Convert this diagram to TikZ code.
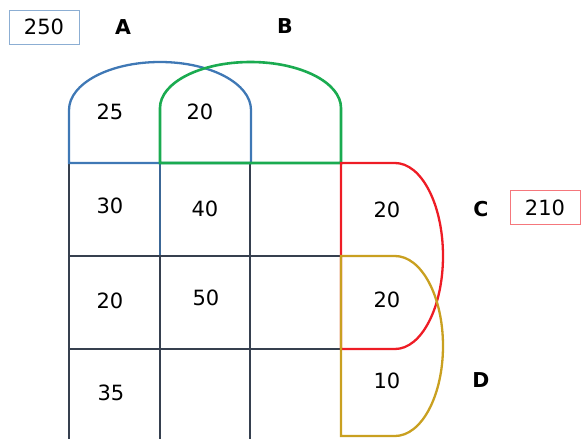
\documentclass[tikz,border=0pt]{standalone}
\usepackage{fontspec}
\setmainfont{DejaVu Sans}
\usepackage{tikz}
\usetikzlibrary{positioning,calc}

\definecolor{setA}{HTML}{3F78B5}
\definecolor{setB}{HTML}{1AAB50}
\definecolor{setC}{HTML}{EE1C25}
\definecolor{setD}{HTML}{C9A020}
\definecolor{gridline}{HTML}{36404F}

\begin{document}
\begin{tikzpicture}[
            x=1pt, y=-1pt,
            cell/.style={draw=gridline, line width=2.3pt},
            num/.style={font=\fontsize{21}{21}\selectfont, inner sep=0pt},
            setname/.style={font=\fontsize{20.5}{20.5}\selectfont\bfseries, inner sep=0pt},
            total/.style={draw, line width=0.8pt, minimum width=70pt, minimum height=34pt, font=\fontsize{21}{21}\selectfont}
        ]
            \useasboundingbox (0,0) rectangle (582,439);

% grid
            \draw[cell] (69,163) -- (69,442);
            \draw[cell, draw=setA!70!gridline] (160,163) -- (160,256);
            \draw[cell] (160,256) -- (160,442);
            \draw[cell] (250,163) -- (250,442);
            \draw[cell] (69,256) -- (341,256);
            \draw[cell] (69,349) -- (341,349);

% sets
            \draw[setA, line width=2.3pt] (69,163) -- (69,110)
                arc[start angle=180, end angle=0, x radius=91pt, y radius=48pt] -- (251,163) -- cycle;
            \draw[setB, line width=2.6pt] (160,163) -- (160,108)
                arc[start angle=180, end angle=0, x radius=90.5pt, y radius=46pt] -- (341,163) -- cycle;
            \draw[setC, line width=2.3pt] (341,163) -- (395,163)
                arc[start angle=90, end angle=-90, x radius=48pt, y radius=93pt] -- (341,349) -- cycle;
            \draw[setD, line width=2.3pt] (341,256) -- (395,256)
                arc[start angle=90, end angle=-90, x radius=48pt, y radius=90pt] -- (341,436) -- cycle;

% set names and totals
            \node[total, draw=setA!60] (tA) at (44,27) {250};
            \node[setname] (nA) at (123,27) {A};
            \node[setname] (nB) at (285,26) {B};
            \node[setname] (nC) at (481,209) {C};
            \node[total, draw=setC!60] (tC) at (545,207.5) {210};
            \node[setname] (nD) at (481,380) {D};

% counts
            \node[num] (a) at (110,112) {25};
            \node[num] (ab) at (200,112) {20};
            \node[num] (r1) at (110,206) {30};
            \node[num] (r2) at (205,209) {40};
            \node[num] (r3) at (110,301) {20};
            \node[num] (r4) at (206,298) {50};
            \node[num] (r5) at (111,393) {35};
            \node[num] (c) at (387,210) {20};
            \node[num] (cd) at (387,300) {20};
            \node[num] (d) at (387,381) {10};

        \end{tikzpicture}
\end{document}
